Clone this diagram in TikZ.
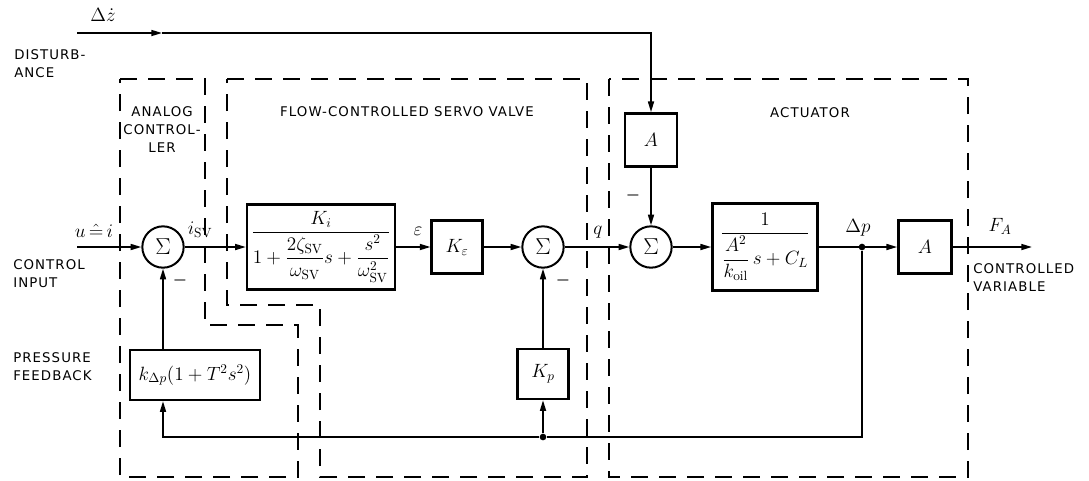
\documentclass[tikz,border=0pt]{standalone}
\usepackage{amsmath}
\usepackage{fontspec}
\newfontfamily\caplbl{DejaVu Sans}[LetterSpace=8]
\usetikzlibrary{arrows.meta}

\begin{document}
\begin{tikzpicture}[x=0.75pt, y=-0.75pt, font=\caplbl,
  blk/.style={draw, line width=1.8pt, inner sep=1pt, font=\Large},
  sumnode/.style={circle, draw, line width=1.5pt, minimum size=31pt, inner sep=0pt, font=\LARGE},
  dotnode/.style={circle, fill, minimum size=5pt, inner sep=0pt},
  sig/.style={line width=1.2pt, -{Triangle[length=8pt,width=4.5pt]}},
  region/.style={line width=1.2pt, dash pattern=on 13pt off 8pt},
  lbl/.style={inner sep=0pt, align=left},
  sname/.style={inner sep=0pt, font=\Large},
  sgn/.style={inner sep=0pt, font=\large}]
% picture measured in pixels of a 1089 x 480 sheet
\useasboundingbox (0,0) rectangle (1089,480);

% dashed regions
\draw[region] (120,79) -- (205,79) -- (205,325) -- (298,325) -- (298,477) -- (120,477) -- cycle;
\draw[region] (227,79) -- (587,79) -- (587,477) -- (320,477) -- (320,305) -- (227,305) -- cycle;
\draw[region] (609,79) rectangle (968,477);
\node[lbl, align=center] (tana) at (162,130) {ANALOG\\[1.5pt]CONTROL-\\[1.5pt]LER};
\node[lbl] (tfsv) at (407,112) {FLOW-CONTROLLED SERVO VALVE};
\node[lbl] (tact) at (810,113) {ACTUATOR};

% blocks
\node[sumnode] (sum1) at (163,247) {$\Sigma$};
\node[blk, minimum width=111pt, minimum height=64pt] (gsv) at (321,247)
  {$\dfrac{K_i}{1+\dfrac{2\zeta_{\mathrm{SV}}}{\omega_{\mathrm{SV}}}s+\dfrac{s^2}{\omega_{\mathrm{SV}}^2}}$};
\node[blk, minimum width=38pt, minimum height=40pt] (keps) at (457,247) {$K_\varepsilon$};
\node[sumnode] (sum3) at (543,247) {$\Sigma$};
\node[sumnode] (sum2) at (651,247) {$\Sigma$};
\node[blk, minimum width=39pt, minimum height=40pt] (adist) at (651,140) {$A$};
\node[blk, minimum width=79pt, minimum height=65pt] (act) at (765,247)
  {$\dfrac{1}{\dfrac{A^2}{k_{\mathrm{oil}}}\,s+C_L}$};
\node[dotnode] (dp) at (862,247) {};
\node[blk, minimum width=40pt, minimum height=40pt] (aout) at (925,247) {$A$};
\node[blk, minimum width=38pt, minimum height=37.5pt] (kp) at (543,374) {$K_p$};
\node[blk, minimum width=97.5pt, minimum height=37.5pt] (kdp) at (195,375) {$k_{\Delta p}(1+T^2s^2)$};
\node[dotnode] (jkp) at (543,437) {};
\coordinate (uin) at (77,247);
\coordinate (dzin) at (77,33);
\coordinate (dzmid) at (162,33);
\coordinate (fout) at (1032,247);

% signal flow
\draw[sig] (dzin) -- (dzmid);
\draw[sig] (dzmid) -| (adist);
\draw[sig] (adist) -- (sum2);
\draw[sig] (uin) -- (sum1);
\draw[sig] (sum1) -- (gsv);
\draw[sig] (gsv) -- (keps);
\draw[sig] (keps) -- (sum3);
\draw[sig] (sum3) -- (sum2);
\draw[sig] (sum2) -- (act);
\draw[sig] (act) -- (aout);
\draw[sig] (aout) -- (fout);
\draw[sig] (dp) |- (jkp) -| (kdp.south -| sum1);
\draw[sig] (jkp) -- (kp);
\draw[sig] (kp) -- (sum3);
\draw[sig] (kdp.north -| sum1) -- (sum1);

% signal names
\node[sname] (ldz) at (103,15) {$\Delta\dot{z}$};
\node[sname] (lu) at (94,231) {$u\,\hat{=}\,i$};
\node[sname] (lisv) at (200,230) {$i_{\mathrm{SV}}$};
\node[sname] (leps) at (418,231) {$\varepsilon$};
\node[sname] (lq) at (598,232) {$q$};
\node[sname] (ldp) at (858,228) {$\Delta p$};
\node[sname] (lfa) at (1000,226) {$F_A$};
\node[sgn] (m1) at (180,280) {$\boldsymbol{-}$};
\node[sgn] (m3) at (563,280) {$\boldsymbol{-}$};
\node[sgn] (m2) at (633,195) {$\boldsymbol{-}$};

% side texts
\node[lbl, anchor=west] (tdist) at (14,64) {DISTURB-\\[1.5pt]ANCE};
\node[lbl, anchor=west] (tin) at (13,274) {CONTROL\\[1.5pt]INPUT};
\node[lbl, anchor=west] (tpf) at (13,367) {PRESSURE\\[1.5pt]FEEDBACK};
\node[lbl, anchor=west] (tcv) at (973,278) {CONTROLLED\\[1.5pt]VARIABLE};
\end{tikzpicture}
\end{document}
